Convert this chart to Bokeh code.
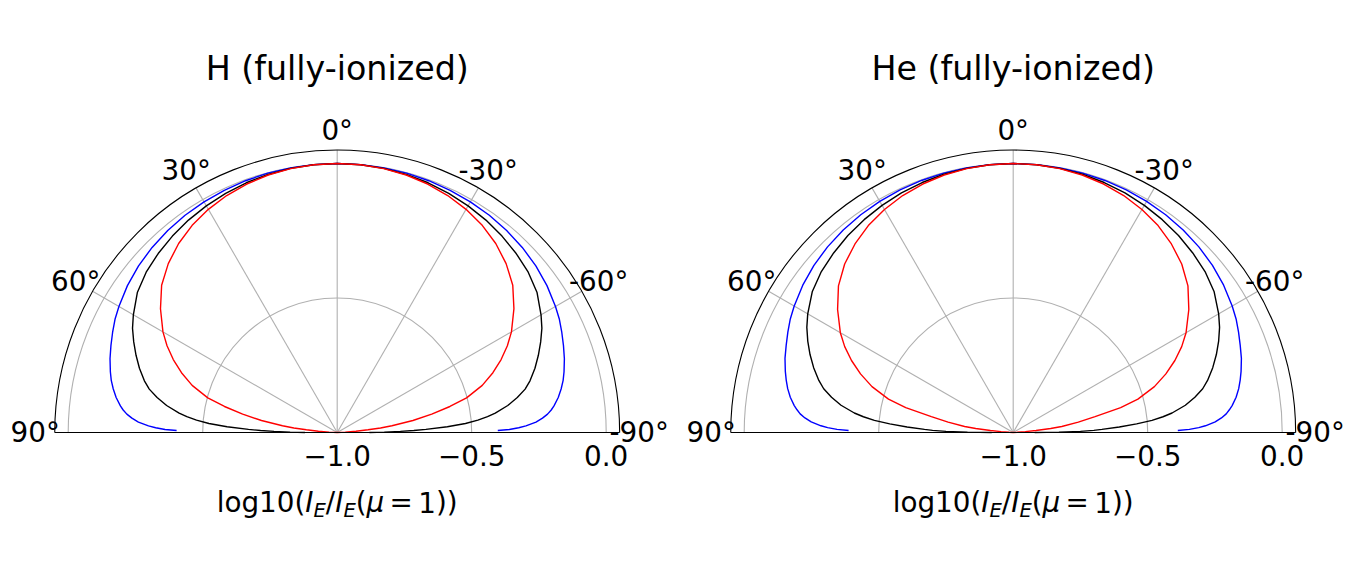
import numpy as np
from bokeh.plotting import figure
from bokeh.models import Range1d, ColumnDataSource
from bokeh.layouts import row
from bokeh.embed import file_html
from bokeh.resources import INLINE
from bokeh.core.properties import value

# ---------------- data ----------------
titles = ["H (fully-ionized)", "He (fully-ionized)"]

# emission angle (deg); curves are symmetric about 0 deg
theta_common = [0, 5, 10, 15, 20, 25, 30, 35, 40, 45, 50, 55, 60, 63, 66, 69, 72, 75, 77, 79,
                81, 83, 84, 85, 86, 87, 88]
blue_theta = theta_common + [88.5, 89, 89.3]
black_theta = theta_common + [88.5, 89, 89.5, 90]
red_theta = theta_common

# log10(I_E / I_E(mu=1))
H_blue = [0, -0.0003, -0.001, -0.002, -0.004, -0.007, -0.010, -0.014, -0.020, -0.027, -0.036,
          -0.048, -0.063, -0.073, -0.086, -0.099, -0.112, -0.127, -0.138, -0.152, -0.168, -0.188,
          -0.200, -0.215, -0.235, -0.260, -0.298, -0.325, -0.360, -0.403]
H_black = [0, -0.001, -0.003, -0.007, -0.012, -0.019, -0.027, -0.036, -0.047, -0.059, -0.073,
           -0.093, -0.125, -0.146, -0.172, -0.199, -0.227, -0.258, -0.283, -0.318, -0.358, -0.408,
           -0.438, -0.475, -0.522, -0.590, -0.670, -0.715, -0.765, -0.825, -0.880]
H_red = [0, -0.001, -0.004, -0.009, -0.017, -0.028, -0.042, -0.060, -0.083, -0.112, -0.148,
         -0.198, -0.252, -0.290, -0.333, -0.380, -0.433, -0.502, -0.570, -0.642, -0.715, -0.795,
         -0.838, -0.885, -0.930, -0.970, -1.0]

He_blue = [0, -0.0003, -0.001, -0.002, -0.003, -0.005, -0.008, -0.012, -0.017, -0.024, -0.033,
           -0.045, -0.060, -0.070, -0.083, -0.096, -0.108, -0.123, -0.134, -0.146, -0.161, -0.180,
           -0.192, -0.205, -0.224, -0.248, -0.285, -0.310, -0.345, -0.388]
He_black = [0, -0.001, -0.003, -0.006, -0.011, -0.017, -0.025, -0.034, -0.044, -0.056, -0.069,
            -0.088, -0.118, -0.139, -0.164, -0.191, -0.220, -0.252, -0.277, -0.312, -0.352, -0.405,
            -0.440, -0.482, -0.540, -0.605, -0.670, -0.700, -0.750, -0.830, -0.920]
He_red = [0, -0.001, -0.004, -0.009, -0.017, -0.028, -0.043, -0.061, -0.085, -0.114, -0.152,
          -0.203, -0.258, -0.297, -0.342, -0.392, -0.448, -0.520, -0.590, -0.690, -0.755, -0.818,
          -0.860, -0.915, -0.955, -0.985, -1.0]

panels = [
    [(blue_theta, H_blue, "blue"), (black_theta, H_black, "black"), (red_theta, H_red, "red")],
    [(blue_theta, He_blue, "blue"), (black_theta, He_black, "black"), (red_theta, He_red, "red")],
]

r_min, r_max = -1.0, 0.05
r_ticks = [-1.0, -0.5, 0.0]
r_tick_labels = ["\u22121.0", "\u22120.5", "0.0"]
theta_ticks = [0, 30, 60, 90, -30, -60, -90]
theta_tick_labels = ["0\u00b0", "30\u00b0", "60\u00b0", "90\u00b0", "-30\u00b0", "-60\u00b0", "-90\u00b0"]

# ---------------- layout ----------------
S = 269.0          # px per radial unit
H = 575
CX = 336.7         # centre x inside each figure (px)
CY = 432.0         # centre y from top (px)
widths = [676, 677]
FONT = value("DejaVu Sans")
GRID = "#b0b0b0"

# DejaVu Sans advance widths (em) for the label pieces
EMW = {"log10(": 3.187, "I": 0.295, "E": 0.632, "/": 0.337, "(": 0.390, "\u03bc": 0.635,
       "=": 0.838, "1": 0.636, ")": 0.390}


def to_xy(theta_deg, rr):
    t = np.radians(np.asarray(theta_deg, dtype=float))
    rr = np.asarray(rr, dtype=float)
    return -rr * np.sin(t), rr * np.cos(t)


def make_panel(title, curves, W):
    p = figure(width=W, height=H, output_backend="svg", toolbar_location=None,
               x_range=Range1d(-CX / S, (W - CX) / S), y_range=Range1d(-(H - CY) / S, CY / S),
               min_border=0, outline_line_color=None)
    p.axis.visible = False
    p.grid.visible = False
    p.background_fill_color = "white"
    p.border_fill_color = "white"

    span = r_max - r_min
    for rt in r_ticks[1:]:
        p.arc(x=0, y=0, radius=rt - r_min, start_angle=0, end_angle=np.pi,
              line_color=GRID, line_width=1.1)
    for th in theta_ticks:
        if abs(th) == 90:
            continue
        x1, y1 = to_xy([th], [span])
        p.segment(x0=[0], y0=[0], x1=list(x1), y1=list(y1), line_color=GRID, line_width=1.1)

    for th, vals, col in curves:
        th_full = [-t for t in th[::-1]] + list(th[1:])
        v_full = list(vals[::-1]) + list(vals[1:])
        rr = np.clip(np.array(v_full) - r_min, 0, None)
        x, y = to_xy(th_full, rr)
        p.line(x=x, y=y, line_color=col, line_width=1.4)

    p.arc(x=0, y=0, radius=span, start_angle=0, end_angle=np.pi, line_color="black", line_width=1.1)
    p.segment(x0=[-span], y0=[0], x1=[span], y1=[0], line_color="black", line_width=1.1)

    lx, ly = to_xy(theta_ticks, [302.0 / S] * len(theta_ticks))
    src = ColumnDataSource(dict(x=lx, y=ly, t=theta_tick_labels))
    p.text(x="x", y="y", text="t", source=src, text_font=FONT, text_font_size="27.8px",
           text_align="center", text_baseline="middle", text_color="black")

    src = ColumnDataSource(dict(x=[rt - r_min for rt in r_ticks], y=[-23.0 / S] * 3, t=r_tick_labels))
    p.text(x="x", y="y", text="t", source=src, text_font=FONT, text_font_size="27.8px",
           text_align="center", text_baseline="middle", text_color="black")

    p.text(x=[0], y=[(432 - 67.5) / S], text=[title], text_font=FONT, text_font_size="33.3px",
           text_align="center", text_baseline="middle", text_color="black")

    # axis label  log10(I_E/I_E(mu = 1))
    F = 27.8
    sub = 0.7
    gap = 0.195
    pieces = [("log10(", "normal", 1.0, 0.0, 0.0),
              ("I", "italic", 1.0, 0.0, 0.0),
              ("E", "italic", sub, 8.0, 0.0),
              ("/", "normal", 1.0, 0.0, 0.0),
              ("I", "italic", 1.0, 0.0, 0.0),
              ("E", "italic", sub, 8.0, 0.0),
              ("(", "normal", 1.0, 0.0, 0.0),
              ("\u03bc", "italic", 1.0, 0.0, gap),
              ("=", "normal", 1.0, 0.0, gap),
              ("1", "normal", 1.0, 0.0, 0.0),
              (")", "normal", 1.0, 0.0, 0.0),
              (")", "normal", 1.0, 0.0, 0.0)]
    total = sum(EMW[t] * sc * F + g * F for t, st, sc, dy, g in pieces)
    xpos = -total / 2.0
    mid = 432 - 502.0
    for t, st, sc, dy, g in pieces:
        p.text(x=[xpos / S], y=[(mid - dy) / S], text=[t], text_font=FONT,
               text_font_size=f"{F * sc:.1f}px", text_font_style=st,
               text_align="left", text_baseline="middle", text_color="black")
        xpos += EMW[t] * sc * F + g * F
    return p


figs = [make_panel(titles[i], panels[i], widths[i]) for i in range(2)]
layout = row(*figs, spacing=0)
open("out.html", "w").write(file_html(layout, INLINE))
